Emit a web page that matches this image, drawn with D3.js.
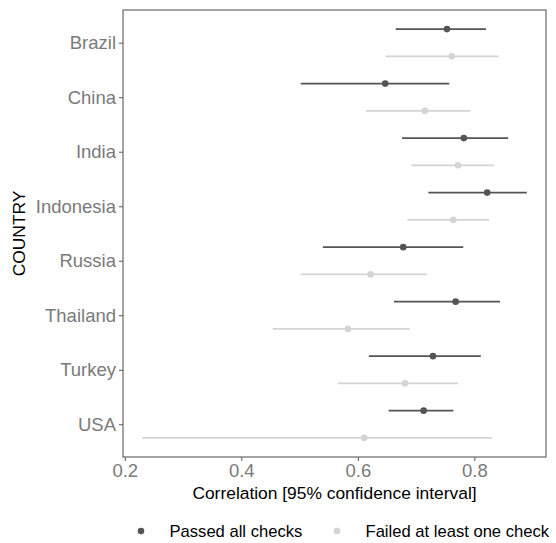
<!DOCTYPE html>
<html>
<head>
<meta charset="utf-8">
<script src="https://cdn.jsdelivr.net/npm/d3@7"></script>
<style>
  body { margin: 0; background: #fff; }
  text { font-family: "Liberation Sans", Arial, sans-serif; }
</style>
</head>
<body>
<div id="chart"></div>
<script>
const countries = ["Brazil", "China", "India", "Indonesia", "Russia", "Thailand", "Turkey", "USA"];
const groups = ["Passed all checks", "Failed at least one check"];

// estimate, lower, upper per country
const passedEst = [0.753, 0.647, 0.782, 0.822, 0.678, 0.768, 0.729, 0.713];
const passedLo  = [0.665, 0.502, 0.676, 0.721, 0.540, 0.662, 0.619, 0.653];
const passedHi  = [0.820, 0.757, 0.858, 0.890, 0.781, 0.844, 0.811, 0.764];

const failedEst = [0.761, 0.715, 0.772, 0.764, 0.622, 0.583, 0.681, 0.611];
const failedLo  = [0.648, 0.614, 0.692, 0.685, 0.502, 0.454, 0.566, 0.230];
const failedHi  = [0.842, 0.793, 0.834, 0.825, 0.719, 0.689, 0.772, 0.830];

const xTicks = [0.2, 0.4, 0.6, 0.8];

const width = 556, height = 543;
const margin = {top: 10, right: 10, bottom: 86, left: 123};
const colors = {"Passed all checks": "#545454", "Failed at least one check": "#d4d4d4"};

const rows = [];
countries.forEach((c, i) => {
  rows.push({country: c, group: groups[0], est: passedEst[i], lo: passedLo[i], hi: passedHi[i]});
  rows.push({country: c, group: groups[1], est: failedEst[i], lo: failedLo[i], hi: failedHi[i]});
});

const svg = d3.select("#chart").append("svg")
    .attr("width", width)
    .attr("height", height);

const lo = d3.min(rows, d => d.lo), hi = d3.max(rows, d => d.hi);
const pad = (hi - lo) * 0.05;
const x = d3.scaleLinear()
    .domain([lo - pad, hi + pad])
    .range([margin.left, width - margin.right]);

const y = d3.scalePoint()
    .domain(countries)
    .range([margin.top, height - margin.bottom])
    .padding(0.6);

const dodge = d3.scalePoint()
    .domain(groups)
    .range([-y.step() / 4, y.step() / 4]);

// panel border
svg.append("rect")
    .attr("x", margin.left)
    .attr("y", margin.top)
    .attr("width", width - margin.right - margin.left)
    .attr("height", height - margin.bottom - margin.top)
    .attr("fill", "none")
    .attr("stroke", "#595959")
    .attr("stroke-width", 1.1);

// x axis
svg.append("g")
    .attr("transform", `translate(0,${height - margin.bottom})`)
    .call(d3.axisBottom(x).tickValues(xTicks).tickFormat(d3.format(".1f")).tickSize(4).tickPadding(3))
    .call(g => g.select(".domain").remove())
    .call(g => g.selectAll(".tick line").attr("stroke", "#595959"))
    .call(g => g.selectAll(".tick text").attr("fill", "#7a7a7a").attr("font-size", 18.5)
        .attr("font-family", "Liberation Sans, Arial, sans-serif"));

// y axis
svg.append("g")
    .attr("transform", `translate(${margin.left},0)`)
    .call(d3.axisLeft(y).tickSize(4).tickPadding(3))
    .call(g => g.select(".domain").remove())
    .call(g => g.selectAll(".tick line").attr("stroke", "#595959"))
    .call(g => g.selectAll(".tick text").attr("fill", "#7a7a7a").attr("font-size", 18.5)
        .attr("font-family", "Liberation Sans, Arial, sans-serif"));

// axis titles
svg.append("text")
    .attr("x", (margin.left + width - margin.right) / 2)
    .attr("y", 499)
    .attr("text-anchor", "middle")
    .attr("font-size", 17.4)
    .attr("fill", "#000")
    .text("Correlation [95% confidence interval]");

svg.append("text")
    .attr("transform", `translate(25,${(margin.top + height - margin.bottom) / 2}) rotate(-90)`)
    .attr("text-anchor", "middle")
    .attr("font-size", 17.4)
    .attr("fill", "#000")
    .text("COUNTRY");

// error bars and points
const g = svg.append("g");
g.selectAll("line.ci")
  .data(rows)
  .join("line")
    .attr("class", "ci")
    .attr("x1", d => x(d.lo))
    .attr("x2", d => x(d.hi))
    .attr("y1", d => y(d.country) + dodge(d.group))
    .attr("y2", d => y(d.country) + dodge(d.group))
    .attr("stroke", d => colors[d.group])
    .attr("stroke-width", 1.6);

g.selectAll("circle")
  .data(rows)
  .join("circle")
    .attr("cx", d => x(d.est))
    .attr("cy", d => y(d.country) + dodge(d.group))
    .attr("r", 3.3)
    .attr("fill", d => colors[d.group]);

// legend
const legendX = [141, 337];
const legend = svg.append("g")
  .selectAll("g")
  .data(groups)
  .join("g")
    .attr("transform", (d, i) => `translate(${legendX[i]},531)`);

legend.append("circle")
    .attr("r", 3.3)
    .attr("fill", d => colors[d]);

legend.append("text")
    .attr("x", 28.5)
    .attr("dy", "0.35em")
    .attr("font-size", 16.6)
    .attr("fill", "#000")
    .text(d => d);
</script>
</body>
</html>
